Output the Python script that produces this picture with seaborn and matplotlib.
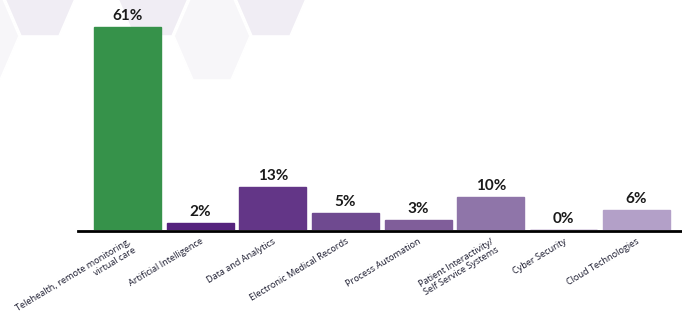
import matplotlib
matplotlib.use("Agg")
import matplotlib.pyplot as plt
from matplotlib.patches import Polygon
import seaborn as sns
import pandas as pd

categories = [
    "Telehealth, remote monitoring,\nvirtual care",
    "Artificial Intelligence",
    "Data and Analytics",
    "Electronic Medical Records",
    "Process Automation",
    "Patient Interactivity/\nSelf Service Systems",
    "Cyber Security",
    "Cloud Technologies",
]
values = [61, 2, 13, 5, 3, 10, 0, 6]
colors = ["#36924A", "#55237D", "#633687", "#6F4A90",
          "#805E9A", "#8F75A9", "#6A3C8E", "#B3A0C8"]

df = pd.DataFrame({"category": categories, "value": values})

sns.set_style("white")
plt.rcParams["font.family"] = ["DejaVu Sans"]

W, H = 682, 322
fig = plt.figure(figsize=(W / 100, H / 100), dpi=100)
fig.patch.set_facecolor("white")

# faint hexagon pattern in the top-left corner (pixel coordinates, origin top-left)
def hexagon(cx, cy, color):
    rx, ry = 38, 44
    pts = [(cx - rx, cy), (cx - rx / 2, cy - ry), (cx + rx / 2, cy - ry),
           (cx + rx, cy), (cx + rx / 2, cy + ry), (cx - rx / 2, cy + ry)]
    pts = [(x / W, 1 - y / H) for x, y in pts]
    fig.patches.append(Polygon(pts, closed=True, transform=fig.transFigure,
                               facecolor=color, edgecolor="white", lw=1.2, zorder=-5))

for cx, cy, c in [(40, -8, "#F0EDF4"), (153, -8, "#F0EDF4"), (271, -8, "#F0EDF4"),
                  (212, 36, "#F7F6F9"), (-19, 36, "#F7F6F9")]:
    hexagon(cx, cy, c)

ax = fig.add_axes([78 / W, (H - 230) / H, 1 - 78 / W, 230 / H])
ax.set_zorder(1)
ax.patch.set_alpha(0)

sns.barplot(data=df, x="category", y="value", hue="category", palette=colors,
            legend=False, width=0.92, ax=ax, saturation=1, linewidth=1.0)
for bar, c in zip(ax.patches, colors):
    bar.set_edgecolor(c)

ax.set_xlim(-0.68, 7.63)
ax.set_ylim(0, 69.1)

for cont in ax.containers:
    ax.bar_label(cont, labels=[f"{v:.0f}%" for v in cont.datavalues], padding=3,
                 fontsize=11, fontweight="bold", family=["Lato", "DejaVu Sans"],
                 color="#1A1A1A")

sns.despine(ax=ax, left=True, top=True, right=True)
ax.spines["bottom"].set_position(("outward", 1))
ax.spines["bottom"].set_linewidth(2)
ax.spines["bottom"].set_color("black")
ax.set_yticks([])
ax.set_xlabel("")
ax.set_ylabel("")
ax.tick_params(axis="x", length=0, pad=4)
ax.set_xticks(range(len(categories)))
ax.set_xticklabels(categories, rotation=31, ha="right", rotation_mode="anchor",
                   fontsize=6.6, family=["Open Sans", "DejaVu Sans"], color="#1A1A2E",
                   linespacing=1.1)
for lbl in ax.get_xticklabels():
    lbl.set_multialignment("right")

fig.savefig("out.png", dpi=100, facecolor="white")
